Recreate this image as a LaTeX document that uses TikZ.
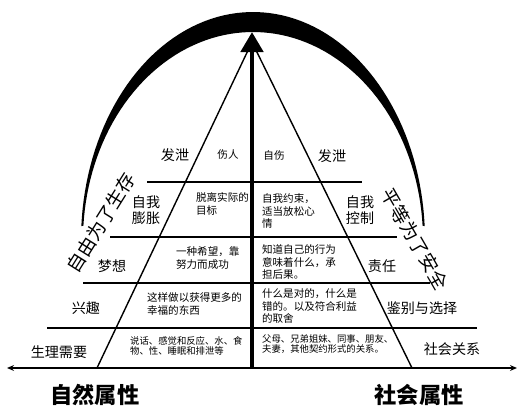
\documentclass[tikz,border=0pt]{standalone}
\usepackage{fontspec}
\setmainfont{Noto Sans CJK SC}
\usetikzlibrary{arrows.meta}

\begin{document}
\begin{tikzpicture}[
    x=0.03cm, y=-0.03cm,
    level/.style={align=center, font=\fontsize{12}{14}\selectfont},
    note/.style={align=left, anchor=west, font=\fontsize{9}{10.5}\selectfont},
    smallnote/.style={align=left, anchor=west, font=\fontsize{8}{9.2}\selectfont},
    motto/.style={inner sep=0pt, font=\fontsize{16}{16}\selectfont},
    axislabel/.style={font=\fontsize{19}{19}\selectfont\bfseries},
    divider/.style={line width=1.6pt},
    edge/.style={line width=1.2pt},
    spine/.style={line width=4pt, -{Triangle[length=0.6cm, width=0.66cm]}},
    axis/.style={line width=1.5pt, {Stealth[length=6pt, width=5pt]}-{Stealth[length=6pt, width=5pt]}}
    ]
    \useasboundingbox (0,0) rectangle (523,413);

    % Key points
    \coordinate (apex) at (252,42);
    \coordinate (tip) at (252,32);
    \coordinate (foot) at (252,368);
    \coordinate (baseL) at (97,368);
    \coordinate (baseR) at (412,368);
    \coordinate (axisL) at (7,368);
    \coordinate (axisR) at (517,368);

    % Crescent arc
    \fill plot[domain=176.5:3.5, samples=80] ({253+172*cos(\x)}, {240-228*sin(\x)})
        -- plot[domain=3.9:176.1, samples=80] ({253+170*cos(\x)}, {240-208*sin(\x)}) -- cycle;

    % Level dividers
    \foreach \y/\l/\r in {182/147/362, 237/110/397, 283/83/430, 328/47/477}
        \draw[divider] (\l,\y) -- (\r,\y);

    % Triangle, spine and axis
    \draw[edge] (baseL) -- (apex) -- (baseR);
    \draw[spine] (foot) -- (tip);
    \draw[axis] (axisL) -- (axisR);

    % Mottos along the arc
    \node[motto, rotate=58] (freedom) at (101,223) {自由为了生存};
    \node[motto, rotate=-60] (equality) at (415,239) {平等为了安全};

    % Level 1
    \node[level] (ventL) at (175,155) {发泄};
    \node[note, anchor=center] (hurt) at (228,155) {伤人};
    \node[note, anchor=center] (selfhurt) at (274,155) {自伤};
    \node[level] (ventR) at (332,156) {发泄};

    % Level 2
    \node[level] (expand) at (146,210) {自我\\膨胀};
    \node[note] (goal) at (192,204) {脱离实际的\\目标};
    \node[note] (restrain) at (258,211) {自我约束，\\适当放松心\\情};
    \node[level] (control) at (360,210) {自我\\控制};

    % Level 3
    \node[level] (dream) at (112,266) {梦想};
    \node[note] (hope) at (172,258) {一种希望，靠\\努力而成功};
    \node[note] (know) at (258,262) {知道自己的行为\\意味着什么，承\\担后果。};
    \node[level] (duty) at (382,266) {责任};

    % Level 4
    \node[level] (interest) at (86,308) {兴趣};
    \node[note] (happy) at (143,304) {这样做以获得更多的\\幸福的东西};
    \node[note] (right) at (258,306) {什么是对的，什么是\\错的。以及符合利益\\的取舍};
    \node[level] (judge) at (422,308) {鉴别与选择};

    % Level 5
    \node[level] (needs) at (59,352) {生理需要};
    \node[smallnote] (body) at (126,346) {说话、感觉和反应、水、食\\物、性、睡眠和排泄等};
    \node[smallnote] (kin) at (258,344) {父母、兄弟姐妹、同事、朋友、\\夫妻，其他契约形式的关系。};
    \node[level] (ties) at (452,349) {社会关系};

    % Axis labels
    \node[axislabel] (nature) at (95,395) {自然属性};
    \node[axislabel] (society) at (419,395) {社会属性};

\end{tikzpicture}
\end{document}
